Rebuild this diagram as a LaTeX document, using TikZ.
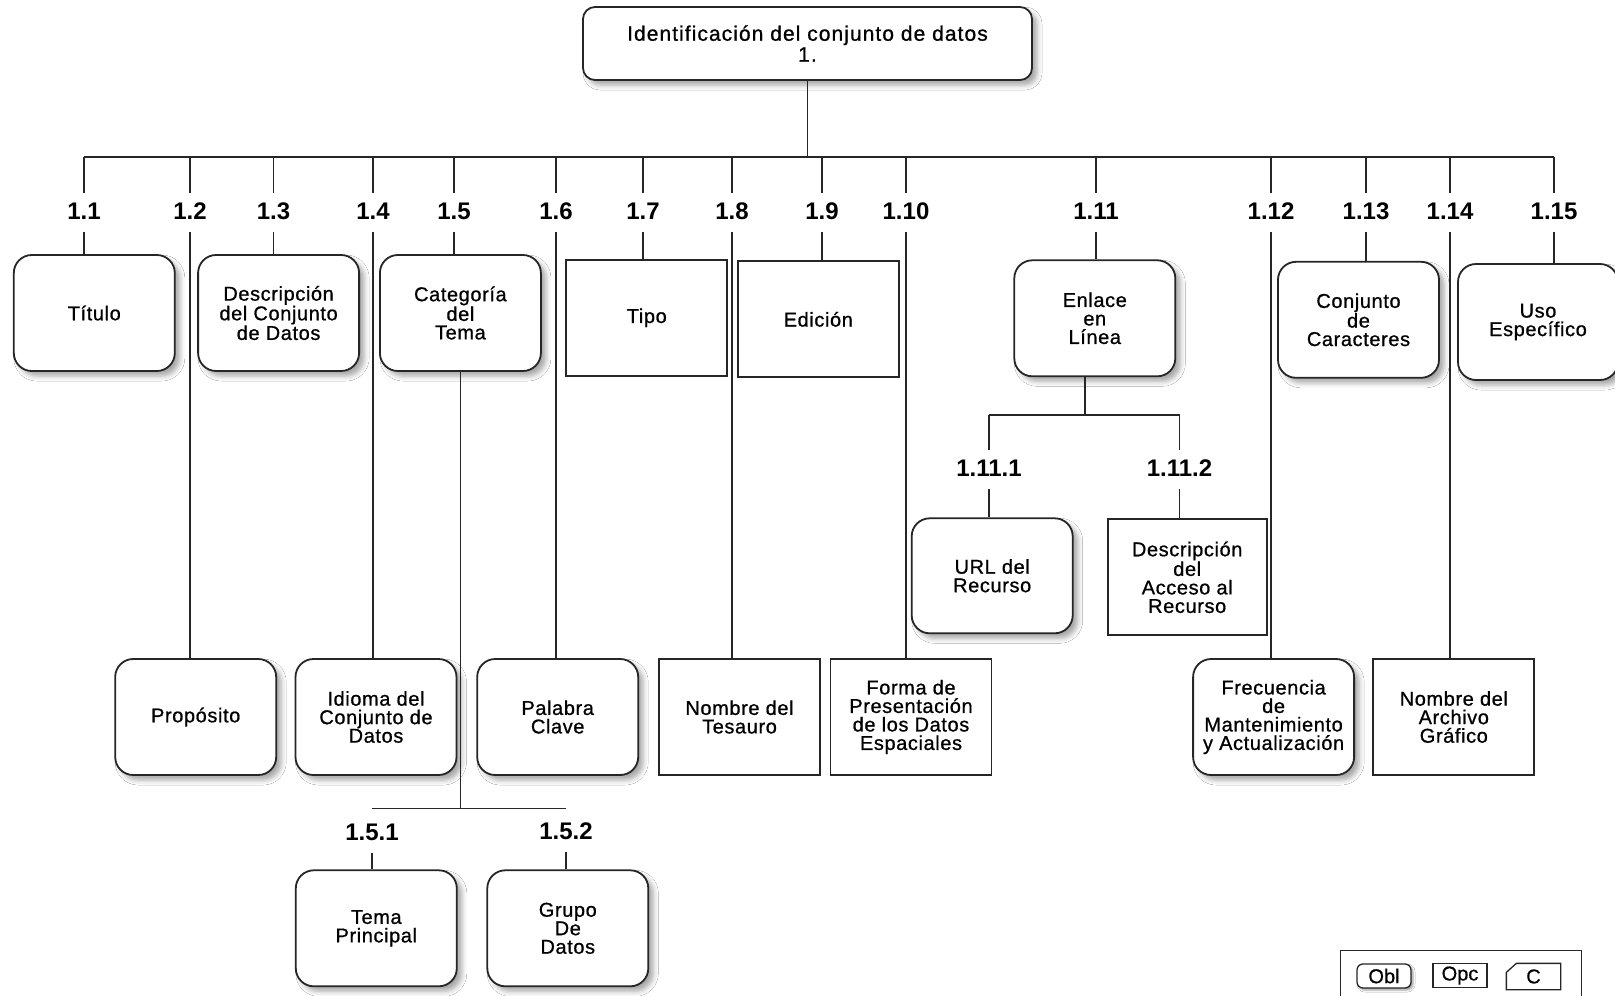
\documentclass[tikz,border=0pt]{standalone}
\usepackage{fontspec}
\setmainfont{Liberation Sans}
\newfontfamily\boxfont[LetterSpace=3,FakeBold=0.8]{Liberation Sans}
\newfontfamily\titlefont[LetterSpace=5,FakeBold=0.8]{Liberation Sans}
\newfontfamily\legfont[FakeBold=0.6]{Liberation Sans}
\usetikzlibrary{shadows.blur}

\begin{document}
\begin{tikzpicture}[x=1pt,y=-1pt,
  shade/.style={blur shadow={shadow xshift=5pt,shadow yshift=-5pt,shadow blur radius=5pt,shadow opacity=35}},
  obl/.style={draw=black!85,line width=1.8pt,rounded corners=18pt,fill=white,shade,
    minimum width=161pt,minimum height=116pt,inner sep=2pt,align=center,
    font=\boxfont\fontsize{20}{18.5}\selectfont},
  opc/.style={draw=black!85,line width=1.8pt,fill=white,
    minimum width=161pt,minimum height=116pt,inner sep=2pt,align=center,
    font=\boxfont\fontsize{20}{18.5}\selectfont},
  num/.style={font=\bfseries\fontsize{24}{24}\selectfont,inner sep=0pt,outer ysep=8pt,
    text height=18pt,text depth=5pt,anchor=base},
  link/.style={line width=1.5pt,black!85},
  legitem/.style={draw=black!85,line width=1.3pt,minimum width=54pt,minimum height=24pt,
    inner sep=0pt,font=\legfont\fontsize{20}{20}\selectfont}]
\useasboundingbox (0,0) rectangle (1615,996);
\fill[white] (0,0) rectangle (1615,996);

\node[obl,rounded corners=12pt,minimum width=449pt,minimum height=73pt,
  font=\titlefont\fontsize{21}{21}\selectfont] (root) at (807.5,43.5)
  {Identificación del conjunto de datos\\1.};
\coordinate (bus) at (0,157);

\node[num] (lab1) at (84,219) {1.1};
\node[num] (lab2) at (190,219) {1.2};
\node[num] (lab3) at (273.5,219) {1.3};
\node[num] (lab4) at (373,219) {1.4};
\node[num] (lab5) at (454,219) {1.5};
\node[num] (lab6) at (556,219) {1.6};
\node[num] (lab7) at (643,219) {1.7};
\node[num] (lab8) at (732,219) {1.8};
\node[num] (lab9) at (822,219) {1.9};
\node[num] (lab10) at (906,219) {1.10};
\node[num] (lab11) at (1096,219) {1.11};
\node[num] (lab12) at (1271,219) {1.12};
\node[num] (lab13) at (1366,219) {1.13};
\node[num] (lab14) at (1450,219) {1.14};
\node[num] (lab15) at (1554,219) {1.15};

\node[obl] (titulo) at (94.3,313) {Título};
\node[obl] (descr) at (278.6,313) {Descripción\\del Conjunto\\de Datos};
\node[obl] (categ) at (460.4,313) {Categoría\\del\\Tema};
\node[opc] (tipo) at (646.8,317.8) {Tipo};
\node[opc] (edicion) at (818.3,319.3) {Edición};
\node[obl] (enlace) at (1094.8,318.3) {Enlace\\en\\Línea};
\node[obl] (conjcar) at (1358.5,319.8) {Conjunto\\de\\Caracteres};
\node[obl,minimum width=160pt] (uso) at (1538,322) {Uso\\Específico};

\node[obl] (proposito) at (195.7,717) {Propósito};
\node[obl] (idioma) at (376,717) {Idioma del\\Conjunto de\\Datos};
\node[obl] (palabra) at (557.7,717) {Palabra\\Clave};
\node[opc] (tesauro) at (739.5,717) {Nombre del\\Tesauro};
\node[opc] (forma) at (911,717) {Forma de\\Presentación\\de los Datos\\Espaciales};
\node[obl] (frecuencia) at (1273.6,717) {Frecuencia\\de\\Mantenimiento\\y Actualización};
\node[opc] (archivo) at (1453.8,717) {Nombre del\\Archivo\\Gráfico};

\draw[link] (root.south) -- (root.south |- bus);
\draw[link] (bus -| lab1.north) -- (bus -| lab15.north);
\foreach \i/\b in {1/titulo,2/proposito,3/descr,4/idioma,5/categ,6/palabra,7/tipo,
  8/tesauro,9/edicion,10/forma,11/enlace,12/frecuencia,13/conjcar,14/archivo,15/uso}
{
  \draw[link] (bus -| lab\i.north) -- (lab\i.north);
  \draw[link] (lab\i.south) -- (lab\i.south |- \b.north);
}

\coordinate (bus11) at (0,415);
\node[num] (lab111) at (989,476) {1.11.1};
\node[num] (lab112) at (1179.5,476) {1.11.2};
\node[obl,minimum height=115pt] (url) at (992.2,575.8) {URL del\\Recurso};
\node[opc,minimum width=159pt] (acceso) at (1187.2,577.3) {Descripción\\del\\Acceso al\\Recurso};
\draw[link] ([xshift=-10pt]enlace.south) -- ([xshift=-10pt]enlace.south |- bus11);
\draw[link] (bus11 -| lab111.north) -- (bus11 -| lab112.north);
\draw[link] (bus11 -| lab111.north) -- (lab111.north);
\draw[link] (bus11 -| lab112.north) -- (lab112.north);
\draw[link] (lab111.south) -- (lab111.south |- url.north);
\draw[link] (lab112.south) -- (lab112.south |- acceso.north);

\coordinate (bus15) at (0,808.5);
\node[num] (lab151) at (372,840) {1.5.1};
\node[num] (lab152) at (566,839) {1.5.2};
\node[obl] (tema) at (376.3,928.3) {Tema\\Principal};
\node[obl] (grupo) at (567.8,928.3) {Grupo\\De\\Datos};
\draw[link] (categ.south) -- (categ.south |- bus15);
\draw[link] (bus15 -| lab151.north) -- (bus15 -| lab152.north);
\draw[link] (lab151.south) -- (lab151.south |- tema.north);
\draw[link] (lab152.south) -- (lab152.south |- grupo.north);

\node[draw=black!85,line width=1.3pt,minimum width=241pt,minimum height=70pt,
  anchor=north west] (legend) at (1340,950) {};
\node[legitem,rounded corners=6pt,fill=white,
  blur shadow={shadow xshift=2pt,shadow yshift=-2pt,shadow blur radius=2pt,shadow opacity=40}]
  (legobl) at (1384,976) {Obl};
\node[legitem] (legopc) at (1460,975.5) {Opc};
\node[legitem,draw=none,minimum width=53pt,minimum height=25pt] (legc) at (1533.5,976.5) {C};
\draw[black!85,line width=1.3pt] (legc.south west) -- ([yshift=-9pt]legc.north west)
  -- ([xshift=10pt]legc.north west) -- (legc.north east) -- (legc.south east) -- cycle;
\end{tikzpicture}
\end{document}
